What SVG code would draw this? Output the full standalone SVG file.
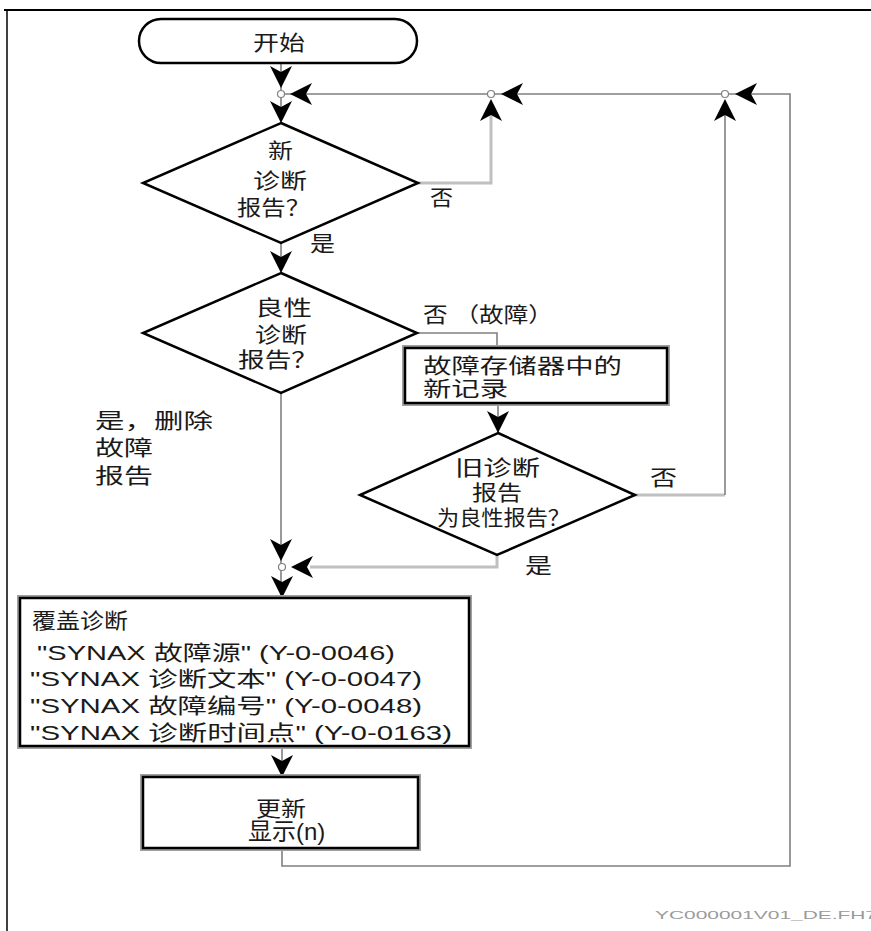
<svg xmlns="http://www.w3.org/2000/svg" xmlns:xlink="http://www.w3.org/1999/xlink" width="871" height="931" viewBox="0 0 871 931">
<style>
.t{font-family:"Liberation Sans","Noto Sans CJK SC",sans-serif;font-size:21px;fill:#1a1a1a}
.shape{fill:#fff;stroke:#000;stroke-width:2.5}
.shadow{fill:none;stroke:#a0a0a0;stroke-width:2}
.c{fill:none;stroke:#808080;stroke-width:1.6}
.cl{fill:none;stroke:#c0c0c0;stroke-width:3}
.j{fill:#fff;stroke:#808080;stroke-width:1.2}
.foot{font-family:"Liberation Sans",sans-serif;font-size:11px;fill:#9a9a9a}
</style>
<defs>
<path id="ah" d="M0,0 L-11,-22 L0,-16 L11,-22 Z" fill="#000"/>
</defs>
<rect width="871" height="931" fill="#fff"/>
<g id="frame">
<line x1="4" y1="10" x2="871" y2="10" stroke="#000" stroke-width="2"/>
<line x1="7" y1="10" x2="7" y2="931" stroke="#000" stroke-width="1.5"/>
</g>
<g id="connectors">
<line class="c" x1="281" y1="63" x2="281" y2="123"/>
<polyline class="c" points="281,94 790,94 790,866 282,866 282,849"/>
<polyline class="cl" points="418,183 491,183 491,110"/>
<line class="c" x1="281" y1="243" x2="281" y2="273"/>
<polyline class="c" points="417,333 497,333 497,348"/>
<line class="c" x1="498" y1="403" x2="498" y2="433"/>
<line class="cl" x1="635" y1="495" x2="725" y2="495"/>
<line class="c" x1="725" y1="495" x2="725" y2="110"/>
<polyline class="cl" points="497,555 497,567 310,567"/>
<line class="c" x1="281" y1="393" x2="281" y2="598"/>
<line class="c" x1="282" y1="746" x2="282" y2="777"/>
<circle class="j" cx="281" cy="94" r="3.5"/>
<circle class="j" cx="491" cy="94" r="3.5"/>
<circle class="j" cx="725" cy="94" r="3.5"/>
<circle class="j" cx="282" cy="567" r="3.5"/>
<use xlink:href="#ah" transform="translate(281,88)"/>
<use xlink:href="#ah" transform="translate(281,123)"/>
<use xlink:href="#ah" transform="translate(290,94) rotate(90)"/>
<use xlink:href="#ah" transform="translate(501,94) rotate(90)"/>
<use xlink:href="#ah" transform="translate(735,94) rotate(90)"/>
<use xlink:href="#ah" transform="translate(491,99) rotate(180)"/>
<use xlink:href="#ah" transform="translate(725,99) rotate(180)"/>
<use xlink:href="#ah" transform="translate(281,273)"/>
<use xlink:href="#ah" transform="translate(498,433)"/>
<use xlink:href="#ah" transform="translate(281,561)"/>
<use xlink:href="#ah" transform="translate(291,567) rotate(90)"/>
<use xlink:href="#ah" transform="translate(282,598)"/>
<use xlink:href="#ah" transform="translate(282,777)"/>
</g>
<g id="start">
<rect class="shape" x="139" y="19" width="278" height="44" rx="22"/>
<text class="t" x="253" y="50" textLength="52" lengthAdjust="spacingAndGlyphs">开始</text>
</g>
<g id="decision1">
<polygon class="shape" points="281,123 418,183 281,243 143,183"/>
<text class="t" x="268" y="158" textLength="25" lengthAdjust="spacingAndGlyphs">新</text>
<text class="t" x="253" y="188" textLength="54" lengthAdjust="spacingAndGlyphs">诊断</text>
<text class="t" x="237" y="215" textLength="73" lengthAdjust="spacingAndGlyphs">报告？</text>
<text class="t" x="430" y="205" textLength="23" lengthAdjust="spacingAndGlyphs">否</text>
<text class="t" x="310" y="251" textLength="25" lengthAdjust="spacingAndGlyphs">是</text>
</g>
<g id="decision2">
<polygon class="shape" points="281,273 417,333 281,393 143,333"/>
<text class="t" x="255" y="315" textLength="57" lengthAdjust="spacingAndGlyphs">良性</text>
<text class="t" x="255" y="342" textLength="52" lengthAdjust="spacingAndGlyphs">诊断</text>
<text class="t" x="238" y="367" textLength="80" lengthAdjust="spacingAndGlyphs">报告？</text>
<text class="t" x="423" y="322" textLength="130" lengthAdjust="spacingAndGlyphs">否 （故障）</text>
<text class="t" x="95" y="428" textLength="118" lengthAdjust="spacingAndGlyphs">是，删除</text>
<text class="t" x="95" y="455" textLength="58" lengthAdjust="spacingAndGlyphs">故障</text>
<text class="t" x="95" y="483" textLength="58" lengthAdjust="spacingAndGlyphs">报告</text>
</g>
<g id="newentry">
<rect class="shadow" x="403" y="346" width="266" height="59"/>
<rect class="shape" x="405" y="348" width="262" height="55"/>
<text class="t" x="423" y="373" textLength="199" lengthAdjust="spacingAndGlyphs">故障存储器中的</text>
<text class="t" x="423" y="396" textLength="85" lengthAdjust="spacingAndGlyphs">新记录</text>
</g>
<g id="decision3">
<polygon class="shape" points="498,433 635,495 497,555 360,495"/>
<text class="t" x="455" y="475" textLength="85" lengthAdjust="spacingAndGlyphs">旧诊断</text>
<text class="t" x="472" y="500" textLength="50" lengthAdjust="spacingAndGlyphs">报告</text>
<text class="t" x="437" y="525" textLength="133" lengthAdjust="spacingAndGlyphs">为良性报告？</text>
<text class="t" x="650" y="485" textLength="27" lengthAdjust="spacingAndGlyphs">否</text>
<text class="t" x="525" y="573" textLength="27" lengthAdjust="spacingAndGlyphs">是</text>
</g>
<g id="overwrite">
<rect class="shadow" x="18" y="596" width="453" height="152"/>
<rect class="shape" x="20" y="598" width="449" height="148"/>
<text class="t" x="32" y="628" textLength="96" lengthAdjust="spacingAndGlyphs">覆盖诊断</text>
<text class="t" x="37" y="660" textLength="358" lengthAdjust="spacingAndGlyphs">"SYNAX 故障源" (Y-0-0046)</text>
<text class="t" x="30" y="686" textLength="392" lengthAdjust="spacingAndGlyphs">"SYNAX 诊断文本" (Y-0-0047)</text>
<text class="t" x="30" y="713" textLength="392" lengthAdjust="spacingAndGlyphs">"SYNAX 故障编号" (Y-0-0048)</text>
<text class="t" x="30" y="740" textLength="422" lengthAdjust="spacingAndGlyphs">"SYNAX 诊断时间点" (Y-0-0163)</text>
</g>
<g id="update">
<rect class="shadow" x="141" y="775" width="279" height="75"/>
<rect class="shape" x="143" y="777" width="275" height="71"/>
<text class="t" x="256" y="816" textLength="50" lengthAdjust="spacingAndGlyphs">更新</text>
<text class="t" x="248" y="840" style="font-size:24px">显示(n)</text>
</g>
<text class="foot" x="655" y="919" textLength="222" lengthAdjust="spacingAndGlyphs">YC000001V01_DE.FH7</text>
</svg>
